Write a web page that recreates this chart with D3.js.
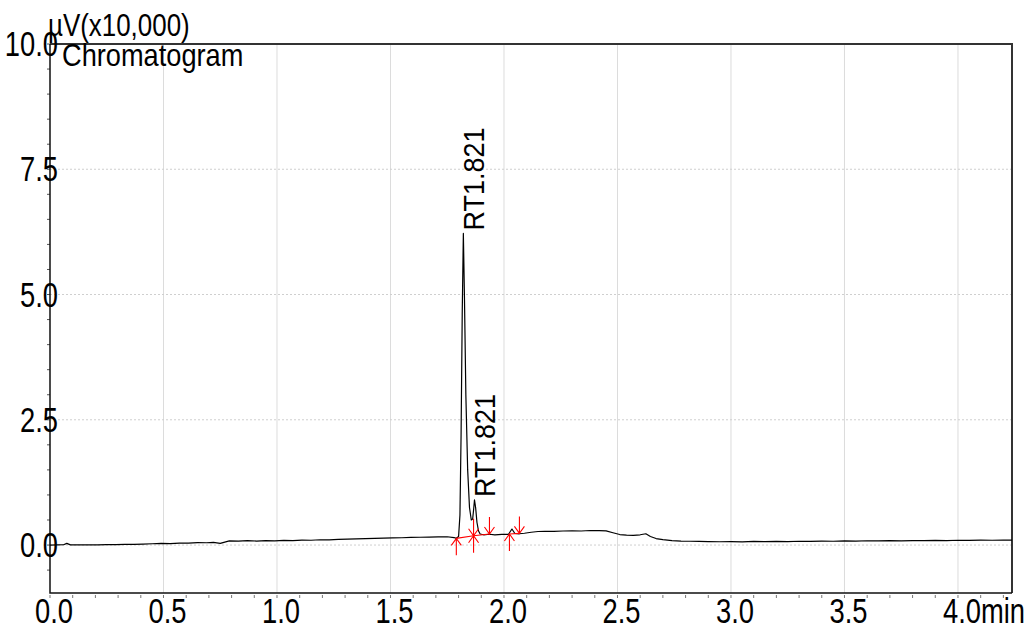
<!DOCTYPE html>
<html>
<head>
<meta charset="utf-8">
<script src="https://cdn.jsdelivr.net/npm/d3@7"></script>
<style>
  html, body { margin: 0; padding: 0; background: #fff; }
  svg { display: block; }
  text { font-family: "Liberation Sans", Arial, sans-serif; fill: #000; }
</style>
</head>
<body>
<svg id="chart" width="1031" height="627"></svg>
<script>
// Detector trace: retention time (min) and signal (µV x 10,000)
const times = [
  0.000, 0.030, 0.060, 0.074, 0.090, 0.130, 0.170, 0.210, 0.250, 0.290,
  0.330, 0.370, 0.410, 0.450, 0.490, 0.530, 0.570, 0.610, 0.650, 0.690,
  0.720, 0.750, 0.790, 0.830, 0.870, 0.910, 0.950, 0.990, 1.030, 1.070,
  1.110, 1.150, 1.190, 1.230, 1.270, 1.310, 1.350, 1.390, 1.430, 1.470,
  1.510, 1.550, 1.590, 1.630, 1.670, 1.710, 1.750, 1.780, 1.790, 1.800,
  1.806, 1.811, 1.816, 1.821, 1.826, 1.832, 1.840, 1.848, 1.856, 1.862,
  1.866, 1.870, 1.875, 1.881, 1.888, 1.895, 1.910, 1.936, 1.960, 1.990,
  2.020, 2.035, 2.048, 2.068, 2.090, 2.120, 2.150, 2.180, 2.220, 2.260,
  2.300, 2.340, 2.380, 2.420, 2.450, 2.480, 2.510, 2.540, 2.570, 2.600,
  2.625, 2.645, 2.670, 2.700, 2.740, 2.780, 2.820, 2.860, 2.900, 2.950,
  3.000, 3.050, 3.100, 3.150, 3.200, 3.250, 3.300, 3.350, 3.400, 3.450,
  3.500, 3.550, 3.600, 3.650, 3.700, 3.750, 3.800, 3.850, 3.900, 3.950,
  4.000, 4.050, 4.100, 4.150, 4.200, 4.238
];
const signal = [
  0.000, 0.002, 0.006, 0.034, 0.004, 0.002, 0.006, 0.004, 0.010, 0.008,
  0.014, 0.012, 0.020, 0.026, 0.032, 0.030, 0.040, 0.038, 0.048, 0.046,
  0.052, 0.034, 0.082, 0.078, 0.088, 0.080, 0.090, 0.084, 0.094, 0.090,
  0.100, 0.096, 0.106, 0.104, 0.114, 0.118, 0.124, 0.130, 0.134, 0.138,
  0.142, 0.146, 0.152, 0.156, 0.158, 0.162, 0.166, 0.150, 0.134, 0.170,
  0.600, 2.200, 4.600, 6.220, 4.900, 3.000, 1.500, 0.750, 0.500, 0.520,
  0.700, 0.900, 0.750, 0.450, 0.280, 0.220, 0.205, 0.215, 0.205, 0.215,
  0.215, 0.320, 0.230, 0.225, 0.235, 0.255, 0.270, 0.275, 0.272, 0.280,
  0.284, 0.280, 0.290, 0.288, 0.282, 0.245, 0.210, 0.200, 0.195, 0.205,
  0.225, 0.170, 0.130, 0.108, 0.090, 0.080, 0.076, 0.072, 0.070, 0.066,
  0.070, 0.064, 0.072, 0.068, 0.074, 0.070, 0.076, 0.072, 0.080, 0.076,
  0.082, 0.078, 0.086, 0.082, 0.088, 0.084, 0.090, 0.088, 0.094, 0.090,
  0.096, 0.092, 0.098, 0.096, 0.098, 0.098
];

// Peak labels (apex time, apex height, text)
const peakTimes = [1.821, 1.870];
const peakHeights = [6.22, 0.90];
const peakLabels = ["RT1.821", "RT1.821"];

// Integration marks: time, baseline level, arrow kind
const markTimes = [1.790, 1.866, 1.936, 2.024, 2.068];
const markLevels = [0.134, 0.186, 0.220, 0.220, 0.233];
const markKinds = ["up", "both", "down", "up", "down"];
const baselineRuns = [[0, 1, 2], [3, 4]];

// Axis ticks
const xTicks = [0.0, 0.5, 1.0, 1.5, 2.0, 2.5, 3.0, 3.5, 4.0];
const xTickLabels = ["0.0", "0.5", "1.0", "1.5", "2.0", "2.5", "3.0", "3.5", "4.0min"];
const yTicks = [0.0, 2.5, 5.0, 7.5, 10.0];
const yTickLabels = ["0.0", "2.5", "5.0", "7.5", "10.0"];
const yUnit = "µV(x10,000)";
const chartTitle = "Chromatogram";

const svg = d3.select("#chart");
const plotLeft = 50, plotRight = 1012, plotTop = 44, plotBottom = 593;

const x = d3.scaleLinear().domain([0, 4.238]).range([plotLeft, plotRight]);
const y = d3.scaleLinear().domain([-0.957, 10]).range([plotBottom, plotTop]);

// narrow text: horizontally squeezed glyphs
function narrowText(g, tx, ty, str, size, sx, anchor, rotate) {
  return g.append("text")
    .attr("transform", `translate(${tx},${ty})` + (rotate ? ` rotate(${rotate})` : "") + ` scale(${sx},1)`)
    .attr("font-size", size)
    .attr("text-anchor", anchor || "start")
    .text(str);
}

// grid
const grid = svg.append("g");
grid.selectAll("line.v").data(xTicks.filter(d => d > 0)).join("line")
  .attr("x1", d => x(d)).attr("x2", d => x(d))
  .attr("y1", plotTop).attr("y2", plotBottom)
  .attr("stroke", "#dcdcdc").attr("stroke-width", 1);
grid.selectAll("line.h").data(yTicks.filter(d => d < 10)).join("line")
  .attr("x1", plotLeft).attr("x2", plotRight)
  .attr("y1", d => y(d)).attr("y2", d => y(d))
  .attr("stroke", "#cfcfcf").attr("stroke-width", 1)
  .attr("stroke-dasharray", "2,2");

// minor ticks
const xMinor = d3.range(0, 4.24, 0.1);
svg.append("g").selectAll("line").data(xMinor).join("line")
  .attr("x1", d => x(d)).attr("x2", d => x(d))
  .attr("y1", plotBottom + 2).attr("y2", plotBottom + 5)
  .attr("stroke", "#777").attr("stroke-width", 1);
const yMinor = d3.range(-0.5, 10.01, 0.5);
svg.append("g").selectAll("line").data(yMinor).join("line")
  .attr("x1", plotLeft - 3).attr("x2", plotLeft)
  .attr("y1", d => y(d)).attr("y2", d => y(d))
  .attr("stroke", "#555").attr("stroke-width", 1);

// frame
svg.append("path")
  .attr("d", `M${plotLeft},${plotTop}H${plotRight}V${plotBottom}`)
  .attr("fill", "none").attr("stroke", "#333").attr("stroke-width", 2);
svg.append("path")
  .attr("d", `M${plotLeft},${plotTop}V${plotBottom}H${plotRight}`)
  .attr("fill", "none").attr("stroke", "#111").attr("stroke-width", 1.5);

// trace
const line = d3.line().x((d, i) => x(times[i])).y((d, i) => y(signal[i]));
svg.append("path")
  .datum(signal)
  .attr("d", line)
  .attr("fill", "none")
  .attr("stroke", "#000")
  .attr("stroke-width", 1.2)
  .attr("stroke-linejoin", "round");

// integration baselines and start/end arrows
const marks = svg.append("g").attr("stroke", "#ff0000").attr("stroke-width", 1.1).attr("fill", "none");
baselineRuns.forEach(run => {
  marks.append("path").attr("d", d3.line()(run.map(i => [x(markTimes[i]), y(markLevels[i])])));
});
markKinds.forEach((kind, i) => {
  const mx = x(markTimes[i]), my = y(markLevels[i]);
  if (kind === "up" || kind === "both") {
    marks.append("path").attr("d",
      `M${mx},${my + 17}V${my}M${mx - 5},${my + 7}L${mx},${my}L${mx + 5},${my + 7}`);
  }
  if (kind === "down" || kind === "both") {
    marks.append("path").attr("d",
      `M${mx},${my - 17}V${my}M${mx - 5},${my - 7}L${mx},${my}L${mx + 5},${my - 7}`);
  }
});

// peak labels
const labels = svg.append("g");
peakLabels.forEach((s, i) => {
  narrowText(labels, x(peakTimes[i]) + 21, y(peakHeights[i]) - 3, s, 30, 0.9, "start", -90);
});

// x tick labels
const xl = svg.append("g");
xTickLabels.forEach((s, i) => narrowText(xl, x(xTicks[i]) - 15, 623, s, 36, 0.76, "start"));

// y tick labels
const yl = svg.append("g");
yTickLabels.forEach((s, i) => narrowText(yl, 58, y(yTicks[i]) + 12, s, 36, 0.76, "end"));

// unit and title
narrowText(svg, 48, 36, yUnit, 32, 0.81, "start");
narrowText(svg, 62, 66, chartTitle, 32, 0.85, "start");
</script>
</body>
</html>
